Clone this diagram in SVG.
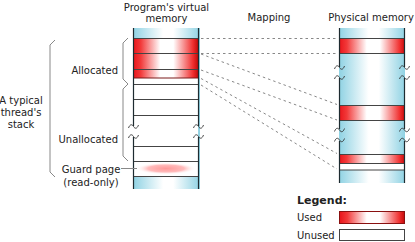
<svg xmlns="http://www.w3.org/2000/svg" xmlns:xlink="http://www.w3.org/1999/xlink" width="415" height="242" viewBox="0 0 415 242">
<style>
text{font-family:"DejaVu Sans",Verdana,sans-serif;font-size:10px;fill:#222}
.b{font-weight:bold;font-size:11px}
.m{text-anchor:middle}
.r{text-anchor:end}
.pg{stroke:#444;stroke-width:1;fill:none}
.rd{stroke:#7a1a1a;stroke-width:1;fill:none}
.edge{stroke:#1d2b30;stroke-width:1.2;fill:none}
.br{stroke:#888;stroke-width:1;fill:none}
.dash{stroke:#888;stroke-width:1;stroke-dasharray:2.5,3;fill:none}
.sq{stroke:#333;stroke-width:0.9;fill:none}
</style>
<defs>
<linearGradient id="cy" x1="0" x2="1" y1="0" y2="0">
<stop offset="0" stop-color="#8fd2e3"/><stop offset="0.45" stop-color="#ffffff"/><stop offset="0.6" stop-color="#ffffff"/><stop offset="1" stop-color="#8fd2e3"/>
</linearGradient>
<linearGradient id="red" x1="0" x2="1" y1="0" y2="0">
<stop offset="0" stop-color="#e8141a"/><stop offset="0.12" stop-color="#f23a3a"/><stop offset="0.42" stop-color="#ffffff"/><stop offset="0.62" stop-color="#ffffff"/><stop offset="0.92" stop-color="#f03030"/><stop offset="1" stop-color="#c40a0a"/>
</linearGradient>
<radialGradient id="pink" cx="0.5" cy="0.5" r="0.5">
<stop offset="0" stop-color="#f99"/><stop offset="0.6" stop-color="#fbb"/><stop offset="1" stop-color="#fff" stop-opacity="0"/>
</radialGradient>
<path id="sq" class="sq" d="M-5,1.5 C-3.5,-2.5 -1.5,-2.5 0,0 C1.5,2.5 3.5,2.5 5,-1.5"/>
</defs>

<g id="titles">
<text class="m" x="166.5" y="10.5">Program's virtual</text>
<text class="m" x="166.5" y="22">memory</text>
<text class="m" x="269" y="21">Mapping</text>
<text class="m" x="371" y="21">Physical memory</text>
</g>

<g id="virtual-memory">
<rect x="133" y="28" width="67" height="161" fill="url(#cy)"/>
<rect x="133" y="38" width="65" height="40" fill="url(#red)"/>
<rect x="133" y="78" width="65" height="83" fill="#fff"/>
<rect x="133" y="161" width="65" height="15" fill="#fff"/>
<ellipse cx="166" cy="168.5" rx="30" ry="6" fill="url(#pink)"/>
<path class="pg" d="M133,38.5H198M133,53.5H198M133,69.5H198M133,84.5H198M133,99.5H198M133,115.5H198M133,146.5H198M133,161.5H198M133,176.5H198"/>
<path class="rd" d="M133,78H198"/>
<path class="edge" d="M133.5,28V126M133.5,137V189M198.5,28V126M198.5,137V189"/>
<use xlink:href="#sq" x="133.5" y="126.5"/><use xlink:href="#sq" x="133.5" y="136.5"/>
<use xlink:href="#sq" x="198.5" y="126.5"/><use xlink:href="#sq" x="198.5" y="136.5"/>
</g>

<g id="physical-memory">
<rect x="339" y="28" width="66" height="155" fill="url(#cy)"/>
<rect x="339" y="38" width="66" height="15" fill="url(#red)"/>
<rect x="339" y="105" width="66" height="15" fill="url(#red)"/>
<rect x="339" y="154" width="66" height="9" fill="url(#red)"/>
<rect x="339" y="163" width="66" height="7" fill="#fff"/>
<path class="pg" d="M339,38.5H404M339,53.5H404M339,105.5H404M339,120.5H404M339,154.5H404M339,163.5H404M339,170H404"/>
<path class="edge" d="M339.5,28V67M339.5,78V129M339.5,141V183M404.5,28V67M404.5,78V129M404.5,141V183"/>
<use xlink:href="#sq" x="339.5" y="67.5"/><use xlink:href="#sq" x="339.5" y="77.5"/>
<use xlink:href="#sq" x="404.5" y="67.5"/><use xlink:href="#sq" x="404.5" y="77.5"/>
<use xlink:href="#sq" x="339.5" y="130"/><use xlink:href="#sq" x="339.5" y="140"/>
<use xlink:href="#sq" x="404.5" y="130"/><use xlink:href="#sq" x="404.5" y="140"/>
</g>

<g id="connectors">
<path class="dash" d="M201,38.5H337M201,53.5H337M201,54L337,104.5M201,70L337,120M201,78.5L337,153.5M201,85L337,169"/>
<path class="br" d="M121,168.5H137"/>
</g>

<g id="labels">
<path class="br" d="M128,38L123,43V79L128,84L123,89V156L128,161"/>
<path class="br" d="M55,40L50,45V172L55,177"/>
<text class="r" x="118" y="74">Allocated</text>
<text class="r" x="118" y="143">Unallocated</text>
<text class="m" x="21" y="104">A typical</text>
<text class="m" x="21" y="116">thread's</text>
<text class="m" x="21" y="128">stack</text>
<text class="m" x="91" y="173">Guard page</text>
<text class="m" x="91" y="186">(read-only)</text>
</g>

<g id="legend">
<text class="b" x="297" y="204">Legend:</text>
<text x="297" y="221">Used</text>
<text x="297" y="239">Unused</text>
<rect x="339.5" y="211.5" width="65" height="12" fill="url(#red)" stroke="#8a1010"/>
<rect x="339.5" y="229.5" width="65" height="11" fill="#fff" stroke="#444"/>
</g>
</svg>
